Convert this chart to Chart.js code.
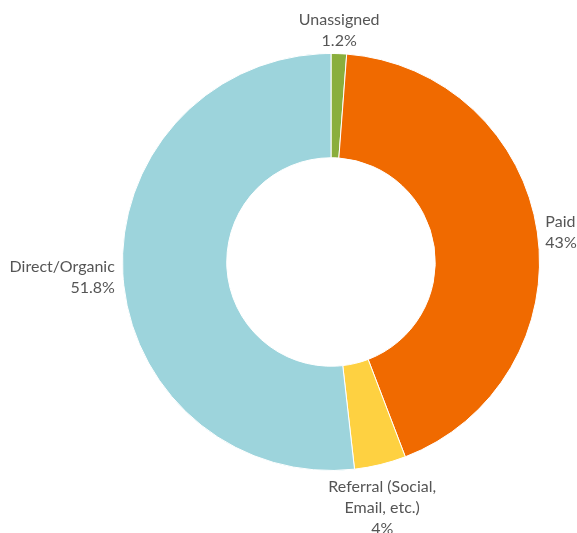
<!DOCTYPE html>
<html>
<head>
<meta charset="utf-8">
<script src="https://cdn.jsdelivr.net/npm/chart.js@4/dist/chart.umd.min.js"></script>
<style>
  html, body { margin: 0; padding: 0; background: #fff; }
  #wrap { width: 577px; height: 533px; }
</style>
</head>
<body>
<div id="wrap"><canvas id="myChart" width="577" height="533"></canvas></div>
<script>
// data
const labels = ['Unassigned', 'Paid', 'Referral (Social,\nEmail, etc.)', 'Direct/Organic'];
const values = [1.2, 43, 4, 51.8];
const colors = ['#8aae3c', '#f06a00', '#fed141', '#9dd4dc'];

// draws the label + percentage just outside each slice
const outsideLabels = {
    id: 'outsideLabels',
    afterDraw(chart) {
        const ctx = chart.ctx;
        const meta = chart.getDatasetMeta(0);
        ctx.save();
        ctx.font = '16px Lato, "Open Sans", sans-serif';
        ctx.fillStyle = '#555555';
        const lh = 21;
        meta.data.forEach(function (arc, i) {
            const p = arc.getProps(['x', 'y', 'startAngle', 'endAngle', 'outerRadius'], true);
            const mid = (p.startAngle + p.endAngle) / 2;
            const cos = Math.cos(mid), sin = Math.sin(mid);
            const ex = p.x + cos * p.outerRadius;
            const ey = p.y + sin * p.outerRadius;
            const lines = labels[i].split('\n').concat([values[i] + '%']);
            let x, y0;
            if (Math.abs(cos) < 0.3) {
                ctx.textAlign = 'center';
                x = ex + cos * 8;
                if (sin < 0) {
                    y0 = ey - 2 - lh * lines.length + lh / 2;
                } else {
                    y0 = ey + 12 + lh / 2;
                }
            } else {
                ctx.textAlign = cos > 0 ? 'left' : 'right';
                x = ex + (cos > 0 ? 8 : -8);
                y0 = ey - (lines.length - 1) * lh / 2 + (cos > 0 ? 0 : 4);
            }
            ctx.textBaseline = 'middle';
            lines.forEach(function (t, k) {
                ctx.fillText(t, x, y0 + k * lh);
            });
        });
        ctx.restore();
    }
};

const chart = new Chart(document.getElementById('myChart').getContext('2d'), {
    type: 'doughnut',
    data: {
        labels: labels,
        datasets: [{
            data: values,
            backgroundColor: colors,
            borderColor: '#ffffff',
            borderWidth: 1
        }]
    },
    options: {
        responsive: false,
        animation: false,
        cutout: '50%',
        layout: { padding: { left: 122, right: 37, top: 53, bottom: 62 } },
        plugins: {
            legend: { display: false },
            tooltip: { enabled: false }
        }
    },
    plugins: [outsideLabels]
});
</script>
</body>
</html>
